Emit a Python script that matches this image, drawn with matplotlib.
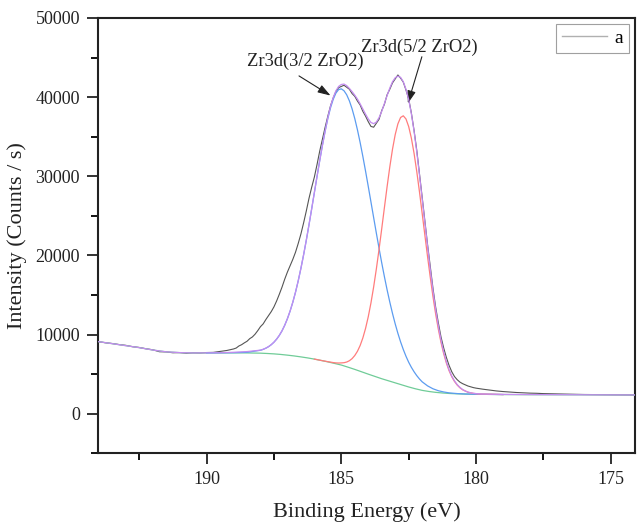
import matplotlib
matplotlib.use("Agg")
import matplotlib.pyplot as plt
from matplotlib.lines import Line2D
from matplotlib.ticker import MultipleLocator

plt.rcParams['font.family'] = ['Liberation Serif', 'DejaVu Serif']

# ---- measured data (Binding energy in eV, intensity in counts/s) ----
data_e = [194.0, 193.75, 193.5, 193.25, 193.0, 192.75, 192.5, 192.25, 192.0, 191.75,
          191.5, 191.25, 191.0, 190.75, 190.5, 190.25, 190.0, 189.75, 189.5, 189.25,
          189.0, 188.9, 188.8, 188.7, 188.6, 188.5, 188.4, 188.3, 188.2, 188.1,
          188.0, 187.9, 187.8, 187.7, 187.6, 187.5, 187.4, 187.3, 187.2, 187.1,
          187.0, 186.9, 186.8, 186.7, 186.6, 186.5, 186.4, 186.3, 186.2, 186.1,
          186.0, 185.9, 185.8, 185.7, 185.6, 185.5, 185.4, 185.3, 185.2, 185.1,
          185.0, 184.9, 184.8, 184.7, 184.6, 184.5, 184.4, 184.3, 184.2, 184.1,
          184.0, 183.9, 183.8, 183.7, 183.6, 183.5, 183.4, 183.3, 183.2, 183.1,
          183.0, 182.9, 182.8, 182.7, 182.6, 182.5, 182.4, 182.3, 182.2, 182.1,
          182.0, 181.9, 181.8, 181.7, 181.6, 181.5, 181.4, 181.3, 181.2, 181.1,
          181.0, 180.9, 180.8, 180.7, 180.6, 180.5, 180.4, 180.3, 180.2, 180.1,
          180.0, 179.75, 179.5, 179.25, 179.0, 178.75, 178.5, 178.25, 178.0, 177.75,
          177.5, 177.25, 177.0, 176.75, 176.5, 176.25, 176.0, 175.75, 175.5, 175.25,
          175.0, 174.75, 174.5, 174.25, 174.0]
data_i = [9100, 8960, 8870, 8740, 8640, 8470, 8370, 8210, 8080, 7830,
          7810, 7700, 7720, 7640, 7690, 7670, 7730, 7750, 7870, 7990,
          8180, 8300, 8560, 8720, 8950, 9150, 9480, 9700, 10050, 10500,
          11000, 11350, 11900, 12400, 12900, 13500, 14250, 15100, 16000, 17000,
          17900, 18700, 19500, 20400, 21500, 22700, 24100, 25600, 27200, 28600,
          29900, 31500, 33200, 34700, 36200, 37600, 38900, 39900, 40700, 41200,
          41350, 41500, 41250, 41000, 40450, 40100, 39500, 39000, 38200, 37600,
          36900, 36300, 36200, 36700, 37200, 38300, 39100, 40300, 41000, 41800,
          42300, 42800, 42400, 41900, 40900, 39800, 38000, 35800, 33300, 30400,
          27400, 24400, 21400, 18600, 15900, 13500, 11500, 9700, 8300, 7100,
          6100, 5300, 4700, 4300, 4000, 3800, 3650, 3500, 3400, 3300,
          3230, 3100, 2990, 2880, 2800, 2740, 2680, 2640, 2600, 2580,
          2540, 2520, 2500, 2480, 2460, 2440, 2430, 2420, 2410, 2400,
          2390, 2380, 2380, 2370, 2360]

# ---- Shirley-type background ----
bg_e = [194.0, 193.5, 193.0, 192.5, 192.0, 191.5, 191.0, 190.5, 190.0, 189.5,
        189.0, 188.5, 188.0, 187.75, 187.5, 187.25, 187.0, 186.75, 186.5, 186.25,
        186.0, 185.75, 185.5, 185.25, 185.0, 184.75, 184.5, 184.25, 184.0, 183.75,
        183.5, 183.25, 183.0, 182.75, 182.5, 182.25, 182.0, 181.75, 181.5, 181.25,
        181.0, 180.75, 180.5, 180.0, 179.0, 178.0, 176.0, 174.0]
bg_i = [9100, 8850, 8600, 8350, 8050, 7820, 7720, 7680, 7680, 7680,
        7690, 7680, 7650, 7610, 7560, 7490, 7400, 7300, 7180, 7050,
        6900, 6730, 6550, 6350, 6150, 5880, 5600, 5300, 5000, 4710,
        4420, 4160, 3900, 3640, 3380, 3150, 2950, 2810, 2700, 2620,
        2560, 2520, 2490, 2460, 2420, 2400, 2380, 2360]

# ---- Zr3d 3/2 component (with background) ----
p1_e = [190.0, 189.5, 189.0, 188.5, 188.0, 187.9, 187.8, 187.7, 187.6, 187.5,
        187.4, 187.3, 187.2, 187.1, 187.0, 186.9, 186.8, 186.7, 186.6, 186.5,
        186.4, 186.3, 186.2, 186.1, 186.0, 185.9, 185.8, 185.7, 185.6, 185.5,
        185.4, 185.3, 185.2, 185.1, 185.0, 184.9, 184.8, 184.7, 184.6, 184.5,
        184.4, 184.3, 184.2, 184.1, 184.0, 183.9, 183.8, 183.7, 183.6, 183.5,
        183.4, 183.3, 183.2, 183.1, 183.0, 182.9, 182.8, 182.7, 182.6, 182.5,
        182.4, 182.3, 182.2, 182.1, 182.0, 181.8, 181.6, 181.4, 181.2, 181.0,
        180.7, 180.4, 180.0, 179.0]
p1_i = [7680, 7700, 7710, 7760, 8016, 8129, 8279, 8471, 8718, 9035,
        9420, 9897, 10474, 11177, 12007, 12972, 14082, 15349, 16774, 18352,
        20063, 21903, 23851, 25872, 27934, 29990, 32003, 33922, 35706, 37300,
        38655, 39733, 40512, 40955, 41050, 40806, 40295, 39529, 38520, 37290,
        35852, 34246, 32501, 30649, 28724, 26762, 24789, 22827, 20913, 19063,
        17306, 15647, 14102, 12668, 11353, 10157, 9079, 8119, 7262, 6507,
        5863, 5303, 4813, 4394, 4032, 3520, 3153, 2905, 2747, 2633,
        2543, 2490, 2460, 2420]

# ---- Zr3d 5/2 component (with background) ----
p2_e = [186.0, 185.7, 185.5, 185.3, 185.2, 185.1, 185.0, 184.9, 184.8, 184.7,
        184.6, 184.5, 184.4, 184.3, 184.2, 184.1, 184.0, 183.9, 183.8, 183.7,
        183.6, 183.5, 183.4, 183.3, 183.2, 183.1, 183.0, 182.9, 182.8, 182.7,
        182.6, 182.5, 182.4, 182.3, 182.2, 182.1, 182.0, 181.9, 181.8, 181.7,
        181.6, 181.5, 181.4, 181.3, 181.2, 181.1, 181.0, 180.9, 180.8, 180.7,
        180.6, 180.5, 180.3, 180.1, 179.9, 179.0]
p2_i = [6900, 6700, 6576, 6460, 6421, 6404, 6419, 6445, 6530, 6695,
        6960, 7354, 7894, 8625, 9578, 10779, 12246, 13993, 16013, 18277,
        20753, 23372, 26056, 28699, 31193, 33415, 35257, 36620, 37430, 37640,
        37245, 36286, 34822, 32905, 30612, 28058, 25338, 22591, 19875, 17271,
        14841, 12632, 10689, 9004, 7580, 6395, 5430, 4673, 4079, 3625,
        3283, 3031, 2716, 2570, 2496, 2420]

# ---- cumulative fit ----
fit_e = [194.0, 193.5, 193.0, 192.5, 192.0, 191.5, 191.0, 190.5, 190.0, 189.5,
         189.0, 188.5, 188.0, 187.9, 187.8, 187.7, 187.6, 187.5, 187.4, 187.3,
         187.2, 187.1, 187.0, 186.9, 186.8, 186.7, 186.6, 186.5, 186.4, 186.3,
         186.2, 186.1, 186.0, 185.9, 185.8, 185.7, 185.6, 185.5, 185.4, 185.3,
         185.2, 185.1, 185.0, 184.9, 184.8, 184.7, 184.6, 184.5, 184.4, 184.3,
         184.2, 184.1, 184.0, 183.9, 183.8, 183.7, 183.6, 183.5, 183.4, 183.3,
         183.2, 183.1, 183.0, 182.9, 182.8, 182.7, 182.6, 182.5, 182.4, 182.3,
         182.2, 182.1, 182.0, 181.9, 181.8, 181.7, 181.6, 181.5, 181.4, 181.3,
         181.2, 181.1, 181.0, 180.9, 180.8, 180.7, 180.6, 180.5, 180.4, 180.3,
         180.2, 180.1, 180.0, 179.8, 179.5, 179.0, 178.0, 176.0, 174.0]
fit_i = [9100, 8850, 8600, 8350, 8050, 7820, 7720, 7680, 7690, 7700,
         7760, 7850, 8030, 8140, 8290, 8480, 8730, 9040, 9430, 9900,
         10480, 11180, 12010, 12980, 14090, 15350, 16780, 18360, 20070, 21910,
         23860, 25880, 27950, 30000, 32010, 33930, 35720, 37400, 38850, 39950,
         40800, 41350, 41600, 41650, 41450, 41100, 40700, 40250, 39750, 39150,
         38500, 37850, 37250, 36800, 36650, 36850, 37400, 38200, 39200, 40200,
         41150, 41950, 42450, 42650, 42500, 41950, 41000, 39700, 37900, 35700,
         33100, 30200, 27200, 24200, 21200, 18300, 15600, 13200, 11100, 9300,
         7800, 6550, 5550, 4750, 4150, 3680, 3330, 3060, 2870, 2730,
         2640, 2580, 2540, 2490, 2470, 2440, 2420, 2390, 2370]

fig = plt.figure(figsize=(6.38, 5.23), dpi=100)
ax = fig.add_axes([0.1536, 0.1333, 0.8417, 0.8323])

ax.plot(data_e, data_i, color='#555555', lw=0.8, zorder=2)
ax.plot(bg_e, bg_i, color='#70cc98', lw=0.9, zorder=3)
ax.plot(p1_e, p1_i, color='#5c9cf0', lw=0.9, zorder=4)
ax.plot(p2_e, p2_i, color='#ff7c7c', lw=0.9, zorder=5)
ax.plot(fit_e, fit_i, color='#c48cf0', lw=0.9, zorder=6)

ax.set_xlim(194.03, 174.1)
ax.set_ylim(-5000, 50000)
ax.xaxis.set_major_locator(MultipleLocator(5))
ax.xaxis.set_minor_locator(MultipleLocator(2.5))
ax.yaxis.set_major_locator(MultipleLocator(10000))
ax.yaxis.set_minor_locator(MultipleLocator(5000))
ax.tick_params(axis='both', which='major', direction='out', length=8, width=1.3,
               labelsize=13, colors='#222222', top=False, right=False, pad=5)
ax.tick_params(axis='both', which='minor', direction='out', length=5, width=1.3,
               top=False, right=False)
for s in ax.spines.values():
    s.set_linewidth(1.5)
    s.set_color('#222222')

ax.set_xlabel('Binding Energy (eV)', fontsize=16, color='#222222', labelpad=10)
ax.set_ylabel('Intensity (Counts / s)', fontsize=16, color='#222222', labelpad=6)

arrow_style = dict(arrowstyle='-|>,head_length=0.55,head_width=0.18', color='#222222',
                   lw=0.8, mutation_scale=14, shrinkA=0, shrinkB=0)
ax.text(186.35, 44460, 'Zr3d(3/2 ZrO2)', ha='center', va='center', fontsize=13.3,
        color='#222222')
ax.annotate('', xy=(185.40, 40200), xytext=(186.57, 42680), arrowprops=arrow_style)
ax.text(182.11, 46230, 'Zr3d(5/2 ZrO2)', ha='center', va='center', fontsize=13.3,
        color='#222222')
ax.annotate('', xy=(182.53, 39200), xytext=(182.01, 45100), arrowprops=arrow_style)

handle = Line2D([0], [0], color='#b0b0b0', lw=1.0)
leg = ax.legend([handle], ['a'], loc='upper right', fontsize=14, frameon=True,
                fancybox=False, edgecolor='#888888', handlelength=2.3,
                borderpad=0.3, handletextpad=0.4, borderaxespad=0.3)
leg.get_frame().set_linewidth(0.8)

fig.savefig('out.png', dpi=100)
